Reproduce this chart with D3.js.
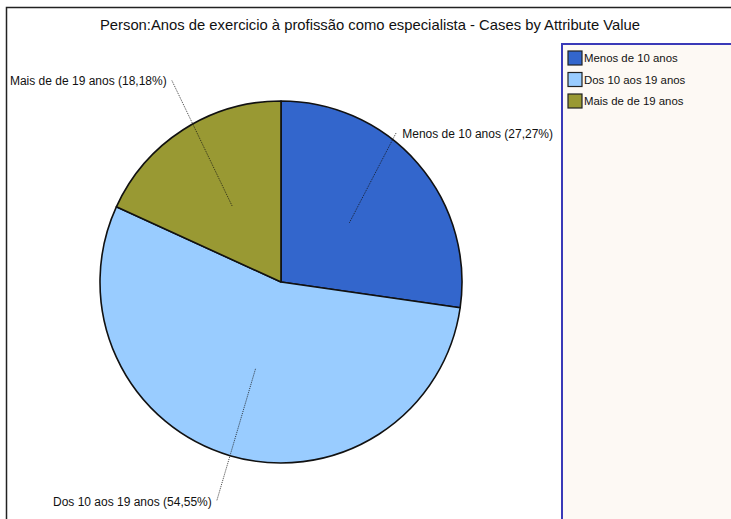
<!DOCTYPE html>
<html>
<head>
<meta charset="utf-8">
<script src="https://cdn.jsdelivr.net/npm/d3@7"></script>
<style>
  body { margin: 0; background: #fff; }
  text { font-family: "Liberation Sans", Arial, sans-serif; fill: #111; }
</style>
</head>
<body>
<div id="chart"></div>
<script>
// data
const categories = ["Menos de 10 anos", "Dos 10 aos 19 anos", "Mais de de 19 anos"];
const counts = [3, 6, 2];
const colors = ["#3366cc", "#99ccff", "#999933"];
const title = "Person:Anos de exercicio à profissão como especialista - Cases by Attribute Value";

const width = 731;
const height = 519;

const svg = d3.select("#chart").append("svg")
    .attr("width", width)
    .attr("height", height);

// outer frame
svg.append("rect")
    .attr("x", 6.5).attr("y", 7.5)
    .attr("width", 740).attr("height", 530)
    .attr("fill", "#fff")
    .attr("stroke", "#222")
    .attr("stroke-width", 1.5);

svg.append("text")
    .attr("x", 370).attr("y", 30)
    .attr("text-anchor", "middle")
    .style("font-size", "14.8px")
    .text(title);

// legend
const legendX = 562, legendY = 44;
const legend = svg.append("g");
legend.append("rect")
    .attr("x", legendX).attr("y", legendY)
    .attr("width", 200).attr("height", 500)
    .attr("fill", "#fdf9f4")
    .attr("stroke", "#3a3ab8")
    .attr("stroke-width", 2);

const items = legend.selectAll("g.item")
    .data(categories)
    .join("g")
    .attr("class", "item")
    .attr("transform", (d, i) => `translate(${legendX + 6},${legendY + 7 + i * 21.5})`);

items.append("rect")
    .attr("width", 14).attr("height", 14)
    .attr("fill", (d, i) => colors[i])
    .attr("stroke", "#222")
    .attr("stroke-width", 1.2);

items.append("text")
    .attr("x", 16).attr("y", 11)
    .style("font-size", "11.4px")
    .text(d => d);

// pie
const cx = 281, cy = 282, r = 181;
const total = d3.sum(counts);
const pie = d3.pie().sort(null).value(d => d)(counts);
const arc = d3.arc().innerRadius(0).outerRadius(r);
const fmt = v => (v * 100).toFixed(2).replace(".", ",") + "%";

const g = svg.append("g").attr("transform", `translate(${cx},${cy})`);

g.selectAll("path")
    .data(pie)
    .join("path")
    .attr("d", arc)
    .attr("fill", (d, i) => colors[i])
    .attr("stroke", "#111")
    .attr("stroke-width", 1.6)
    .attr("stroke-linejoin", "round");

// labels with dotted leader lines
const polar = (a, rr) => [rr * Math.sin(a), -rr * Math.cos(a)];
const nudge = [[0, 0], [0, 0], [14, -10]];
const labelsG = svg.append("g");

pie.forEach((d, i) => {
    const mid = (d.startAngle + d.endAngle) / 2;
    const inner = polar(mid, r / 2);
    const outer = polar(mid, r * 1.26);
    const right = Math.sin(mid) > 0;
    const label = `${categories[i]} (${fmt(d.value / total)})`;

    const t = labelsG.append("text")
        .style("font-size", "12px")
        .attr("dominant-baseline", "central")
        .attr("text-anchor", right ? "start" : "end")
        .text(label);

    let ox = cx + outer[0] + nudge[i][0];
    const oy = cy + outer[1] + nudge[i][1];
    if (right) {
        const w = t.node().getComputedTextLength();
        ox = Math.min(ox, legendX - 9 - w - 6);
    }
    t.attr("x", right ? ox + 6 : ox - 5).attr("y", oy + 1);

    labelsG.append("line")
        .attr("x1", cx + inner[0]).attr("y1", cy + inner[1])
        .attr("x2", ox).attr("y2", oy)
        .attr("stroke", "#111")
        .attr("stroke-width", 0.8)
        .attr("stroke-dasharray", "1,1");
});
</script>
</body>
</html>
